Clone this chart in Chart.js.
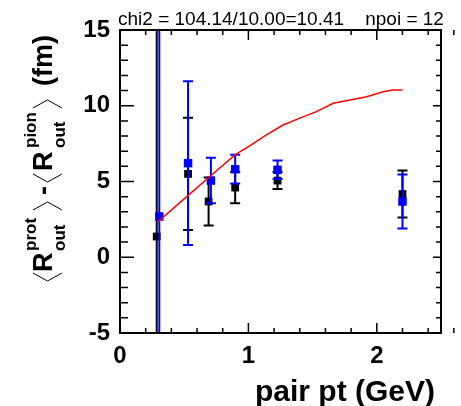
<!DOCTYPE html>
<html>
<head>
<meta charset="utf-8">
<script src="https://cdn.jsdelivr.net/npm/chart.js@4.4.1/dist/chart.umd.min.js"></script>
<style>
  html, body { margin: 0; padding: 0; background: #fff; }
  #wrap { width: 461px; height: 406px; }
</style>
</head>
<body>
<div id="wrap"><canvas id="c" width="461" height="406"></canvas></div>
<script>
'use strict';

// black points (drawn first)
const blackX   = [0.286, 0.53, 0.69, 0.897, 1.227, 2.20];
const blackY   = [1.37, 5.50, 3.68, 4.60, 5.06, 4.17];
const blackErr = [30, 3.7, 1.58, 1.03, 0.56, 1.55];

// blue points (drawn on top)
const blueX   = [0.306, 0.53, 0.708, 0.897, 1.227, 2.20];
const blueY   = [2.69, 6.21, 5.06, 5.81, 5.77, 3.68];
const blueErr = [30, 5.4, 1.5, 0.95, 0.61, 1.78];

// red curve
const curveX = [0.298, 0.506, 0.70, 0.895, 1.01, 1.14, 1.27, 1.40, 1.53, 1.66, 1.79, 1.92, 2.05, 2.12, 2.20];
const curveY = [2.36, 3.90, 5.33, 6.76, 7.35, 8.08, 8.73, 9.18, 9.61, 10.16, 10.38, 10.60, 10.93, 11.04, 11.04];

const xTicks = [0, 1, 2];
const yTicks = [-5, 0, 5, 10, 15];
const X_MIN = 0, X_MAX = 2.5, Y_MIN = -5, Y_MAX = 15;

const FONT = '"Liberation Sans", Arial, Helvetica, sans-serif';

const pts = (xs, ys) => xs.map((x, i) => ({ x, y: ys[i] }));

function drawYTitle(ctx) {
  const big = `bold 27px ${FONT}`;
  const small = `bold 17px ${FONT}`;
  ctx.save();
  ctx.translate(52, 284);
  ctx.rotate(-Math.PI / 2);
  ctx.fillStyle = '#000';
  ctx.strokeStyle = '#000';
  ctx.lineWidth = 1;
  ctx.textAlign = 'left';
  ctx.textBaseline = 'alphabetic';

  const bracket = (x, open) => {
    ctx.beginPath();
    if (open) { ctx.moveTo(x + 8, -19); ctx.lineTo(x, -4.5); ctx.lineTo(x + 8, 10); }
    else      { ctx.moveTo(x, -19); ctx.lineTo(x + 8, -4.5); ctx.lineTo(x, 10); }
    ctx.stroke();
  };
  const text = (t, x, y, font) => { ctx.font = font; ctx.fillText(t, x, y); };

  bracket(3, true);
  text('R', 12, 0, big);
  text('prot', 33, -16.5, small);
  text('out', 33, 13, small);
  bracket(74, false);
  text('-', 89, 0, big);
  bracket(102, true);
  text('R', 113, 0, big);
  text('pion', 136, -16.5, small);
  text('out', 136, 13, small);
  bracket(176, false);
  text('(fm)', 198, 0, big);
  ctx.restore();
}

const rootFrame = {
  id: 'rootFrame',
  beforeDatasetDraw(chart, args) {
    const ds = chart.data.datasets[args.index];
    if (!ds.errors) return;
    const { ctx, chartArea: a, scales: { x, y } } = chart;
    ctx.save();
    ctx.beginPath();
    ctx.rect(a.left, a.top, a.right - a.left, a.bottom - a.top);
    ctx.clip();
    ctx.strokeStyle = ds.borderColor;
    ctx.lineWidth = 2;
    ds.data.forEach((p, i) => {
      const e = ds.errors[i];
      const px = x.getPixelForValue(p.x);
      const y1 = y.getPixelForValue(p.y + e);
      const y2 = y.getPixelForValue(p.y - e);
      ctx.beginPath();
      ctx.moveTo(px, y1); ctx.lineTo(px, y2);
      ctx.moveTo(px - 5, y1); ctx.lineTo(px + 5, y1);
      ctx.moveTo(px - 5, y2); ctx.lineTo(px + 5, y2);
      ctx.stroke();
    });
    ctx.restore();
  },
  afterDraw(chart) {
    const { ctx, chartArea: a, scales: { x, y } } = chart;
    ctx.save();
    ctx.strokeStyle = '#000';
    ctx.lineWidth = 2;
    ctx.strokeRect(a.left, a.top, a.right - a.left, a.bottom - a.top);

    ctx.lineWidth = 1.5;
    ctx.beginPath();
    // x ticks, 5 subdivisions per unit
    for (let i = 0; i <= Math.round((X_MAX - X_MIN) * 5); i++) {
      const v = X_MIN + i * 0.2;
      const px = x.getPixelForValue(v);
      const major = i % 5 === 0;
      const len = major ? 10 : 5;
      ctx.moveTo(px, a.bottom); ctx.lineTo(px, a.bottom - len);
      ctx.moveTo(px, a.top); ctx.lineTo(px, a.top + len);
    }
    // y ticks, one per unit
    for (let v = Y_MIN; v <= Y_MAX; v++) {
      const py = y.getPixelForValue(v);
      const major = v % 5 === 0;
      ctx.moveTo(a.left, py); ctx.lineTo(a.left + (major ? 14 : 8), py);
      ctx.moveTo(a.right, py); ctx.lineTo(a.right - (major ? 8 : 5), py);
    }
    ctx.stroke();

    ctx.fillStyle = '#000';
    ctx.font = `19px ${FONT}`;
    ctx.textAlign = 'left';
    ctx.textBaseline = 'alphabetic';
    ctx.fillText('chi2 = 104.14/10.00=10.41    npoi = 12', 118, 25);

    ctx.font = `bold 30px ${FONT}`;
    ctx.textAlign = 'right';
    ctx.textBaseline = 'middle';
    ctx.fillText('pair pt (GeV)', 435, 393);
    ctx.restore();

    drawYTitle(ctx);
  }
};

new Chart(document.getElementById('c'), {
  type: 'scatter',
  data: {
    datasets: [
      {
        data: pts(curveX, curveY),
        showLine: true,
        borderColor: '#ff0000',
        borderWidth: 1.5,
        pointRadius: 0,
        tension: 0,
      },
      {
        data: pts(blueX, blueY),
        errors: blueErr,
        borderColor: '#0000ff',
        backgroundColor: '#0000ff',
        pointStyle: 'rect',
        pointRadius: 6,
        borderWidth: 0,
      },
      {
        data: pts(blackX, blackY),
        errors: blackErr,
        borderColor: '#000000',
        backgroundColor: '#000000',
        pointStyle: 'rect',
        pointRadius: 5.5,
        borderWidth: 0,
      },
    ],
  },
  options: {
    responsive: false,
    animation: false,
    events: [],
    layout: { padding: { top: 30, right: 20, left: 0, bottom: 0 } },
    plugins: { legend: { display: false }, tooltip: { enabled: false } },
    scales: {
      x: {
        type: 'linear',
        min: X_MIN, max: X_MAX,
        afterBuildTicks: s => { s.ticks = xTicks.map(v => ({ value: v })); },
        afterFit: s => { s.height = 73; },
        grid: { display: false, drawTicks: false },
        border: { display: false },
        ticks: {
          padding: 9,
          color: '#000',
          font: { family: FONT, size: 24, weight: 'bold' },
          maxRotation: 0,
        },
      },
      y: {
        min: Y_MIN, max: Y_MAX,
        afterBuildTicks: s => { s.ticks = yTicks.map(v => ({ value: v })); },
        afterFit: s => { s.width = 120; },
        grid: { display: false, drawTicks: false },
        border: { display: false },
        ticks: {
          padding: 10,
          color: '#000',
          font: { family: FONT, size: 24, weight: 'bold' },
        },
      },
    },
  },
  plugins: [rootFrame],
});
</script>
</body>
</html>
